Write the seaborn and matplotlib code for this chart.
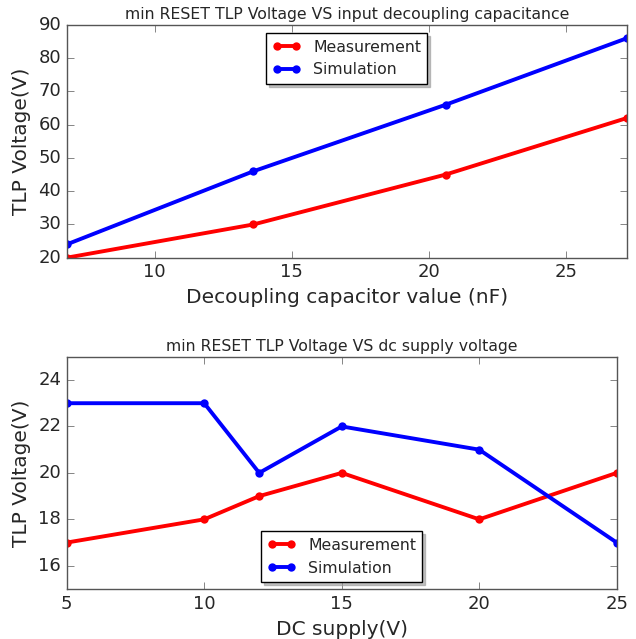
import pandas as pd
import matplotlib
matplotlib.use("Agg")
import matplotlib.pyplot as plt
import seaborn as sns

# top panel: decoupling capacitance sweep
cap_nf = [6.8, 13.6, 20.6, 27.2]
cap_meas = [20, 30, 45, 62]
cap_sim = [24, 46, 66, 86]

# bottom panel: dc supply sweep
dc_v = [5, 10, 12, 15, 20, 25]
dc_meas = [17, 18, 19, 20, 18, 20]
dc_sim = [23, 23, 20, 22, 21, 17]


def to_long(x, meas, sim):
    df = pd.DataFrame({"x": x, "Measurement": meas, "Simulation": sim})
    return df.melt(id_vars="x", var_name="series", value_name="y")


def draw(ax, df, title, xlabel, legend_loc, legend_anchor):
    sns.lineplot(data=df, x="x", y="y", hue="series",
                 palette={"Measurement": "red", "Simulation": "blue"},
                 marker="o", markersize=6, markeredgewidth=0,
                 linewidth=2.8, ax=ax)
    ax.set_title(title, fontsize=11.3, pad=4)
    ax.set_xlabel(xlabel, fontsize=14.5)
    ax.set_ylabel("TLP Voltage(V)", fontsize=14.5)
    ax.tick_params(labelsize=13, direction="in", top=True, right=True,
                   length=5, color="#555555")
    leg = ax.legend(loc=legend_loc, bbox_to_anchor=legend_anchor, fontsize=11.3,
                    borderaxespad=0, handlelength=1.8, numpoints=2,
                    shadow={"color": "0.6", "alpha": 0.6}, fancybox=False,
                    framealpha=1, edgecolor="black")
    leg.set_title(None)
    for sp in ax.spines.values():
        sp.set_color("#555555")


def main():
    plt.style.use("classic")
    sns.set_style("ticks")
    plt.rcParams["font.family"] = ["DejaVu Sans"]
    fig = plt.figure(figsize=(6.36, 6.39), dpi=100)
    ax1 = fig.add_axes([0.1049, 0.5967, 0.8805, 0.3642])
    ax2 = fig.add_axes([0.1049, 0.0782, 0.8648, 0.3635])

    draw(ax1, to_long(cap_nf, cap_meas, cap_sim),
         "min RESET TLP Voltage VS input decoupling capacitance",
         "Decoupling capacitor value (nF)", "upper center", (0.50, 0.964))
    ax1.set_xlim(6.8, 27.2)
    ax1.set_ylim(20, 90)
    ax1.set_xticks([10, 15, 20, 25])

    draw(ax2, to_long(dc_v, dc_meas, dc_sim),
         "min RESET TLP Voltage VS dc supply voltage",
         "DC supply(V)", "lower center", (0.50, 0.031))
    ax2.set_xlim(5, 25)
    ax2.set_ylim(15, 25)
    ax2.set_yticks([16, 18, 20, 22, 24])

    fig.savefig("out.png", dpi=100)
    plt.close(fig)


if __name__ == "__main__":
    main()
